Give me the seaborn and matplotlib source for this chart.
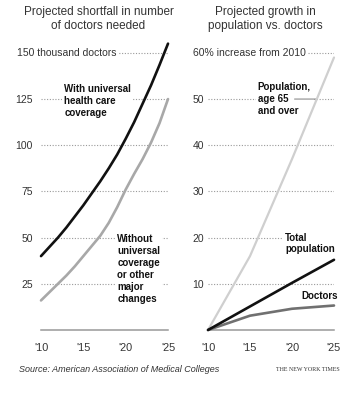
import numpy as np
import matplotlib
matplotlib.use("Agg")
import matplotlib.pyplot as plt
import seaborn as sns

# left panel: projected shortfall (thousands of doctors)
years = list(range(2010, 2026))
with_coverage = [40, 45, 50, 55.5, 61.5, 67.5, 74, 80.5, 87.5, 95, 103.5,
                 112.5, 122.5, 132.5, 143.5, 155]
without_coverage = [16, 20.5, 25, 29.5, 34.5, 40, 45.5, 51, 58, 66.5, 76,
                    84.5, 92.5, 101.5, 112, 125]
left_ticks = [25, 50, 75, 100, 125, 150]
left_labels = ["25", "50", "75", "100", "125", ""]

# right panel: percent increase from 2010
years5 = [2010, 2015, 2020, 2025]
pop65 = [0, 16, 37, 59]
total_pop = [0, 5.1, 10.2, 15.2]
doctors = [0, 3.1, 4.6, 5.3]
right_ticks = [10, 20, 30, 40, 50, 60]
right_labels = ["10", "20", "30", "40", "50", ""]

xticks = [2010, 2015, 2020, 2025]
xlabels = ["'10", "'15", "'20", "'25"]

sns.set_style("white")
plt.rcParams["font.family"] = ["Liberation Sans Narrow", "Liberation Sans", "DejaVu Sans"]

fig = plt.figure(figsize=(3.61, 4.0), dpi=100)
ax1 = fig.add_axes([0.1136, 0.175, 0.3518, 0.739])
ax2 = fig.add_axes([0.5762, 0.175, 0.349, 0.739])

TXT = "#333333"
GRID = "#9a9a9a"
bold_font = ["Liberation Sans", "DejaVu Sans"]
white_box = dict(facecolor="white", edgecolor="none", pad=1.5)


def style_axis(ax, ticks, labels, ymax, pad):
    ax.set_xlim(2010, 2025)
    ax.set_ylim(0, ymax)
    ax.set_yticks(ticks)
    ax.set_yticklabels(labels)
    ax.set_xticks(xticks)
    ax.set_xticklabels(xlabels)
    ax.grid(axis="y", linestyle=(0, (1, 1.5)), color=GRID, linewidth=0.8)
    ax.grid(axis="x", visible=False)
    ax.set_axisbelow(True)
    for s in ["left", "top", "right"]:
        ax.spines[s].set_visible(False)
    ax.spines["bottom"].set_color("#999999")
    ax.spines["bottom"].set_linewidth(1.1)
    ax.tick_params(axis="y", length=0, pad=pad, labelsize=7.5, labelcolor=TXT)
    ax.tick_params(axis="x", direction="out", length=4.3, width=1, color="#999999",
                   pad=5, labelsize=7.8, labelcolor=TXT)
    ax.set_xlabel("")
    ax.set_ylabel("")


# left panel
sns.lineplot(x=years, y=without_coverage, ax=ax1, color="#a8a8a8", linewidth=1.9,
             zorder=5, clip_on=False)
sns.lineplot(x=years, y=with_coverage, ax=ax1, color="#111111", linewidth=1.9,
             zorder=6, clip_on=False)
style_axis(ax1, left_ticks, left_labels, 160, 5.8)
ax1.text(-0.189, 150, "150 thousand doctors", transform=ax1.get_yaxis_transform(),
         ha="left", va="center", fontsize=7.5, color=TXT, bbox=white_box, zorder=3)
ax1.text(2012.75, 133, "With universal\nhealth care\ncoverage", fontsize=7,
         fontweight="bold", family=bold_font, ha="left", va="top", linespacing=1.25,
         color="#111111", bbox=white_box, zorder=3)
ax1.text(2019.0, 52, "Without\nuniversal\ncoverage\nor other\nmajor\nchanges",
         fontsize=7, fontweight="bold", family=bold_font, ha="left", va="top",
         linespacing=1.25, color="#111111", bbox=white_box, zorder=3)

# right panel
sns.lineplot(x=years5, y=pop65, ax=ax2, color="#cfcfcf", linewidth=1.6,
             zorder=5, clip_on=False)
sns.lineplot(x=years5, y=doctors, ax=ax2, color="#707070", linewidth=1.9,
             zorder=6, clip_on=False)
sns.lineplot(x=years5, y=total_pop, ax=ax2, color="#111111", linewidth=1.9,
             zorder=7, clip_on=False)
style_axis(ax2, right_ticks, right_labels, 64, 3)
ax2.text(-0.122, 60, "60% increase from 2010", transform=ax2.get_yaxis_transform(),
         ha="left", va="center", fontsize=7.5, color=TXT, bbox=white_box, zorder=3)
ax2.text(2015.9, 53.6, "Population,\nage 65\nand over", fontsize=7, fontweight="bold",
         family=bold_font, ha="left", va="top", linespacing=1.25, color="#111111",
         bbox=white_box, zorder=3)
x50 = np.interp(50, pop65, years5)
ax2.annotate("", xy=(x50, 50), xytext=(-16, 0), textcoords="offset points",
             arrowprops=dict(arrowstyle="-", color="#999999", lw=0.9,
                             shrinkA=0, shrinkB=0), zorder=4)
ax2.text(2019.2, 21, "Total\npopulation", fontsize=7, fontweight="bold",
         family=bold_font, ha="left", va="top", linespacing=1.15, color="#111111",
         bbox=white_box, zorder=3)
ax2.text(2021.1, 8.4, "Doctors", fontsize=7, fontweight="bold", family=bold_font,
         ha="left", va="top", color="#111111", zorder=3)

# titles and footer
fig.text(0.273, 0.985, "Projected shortfall in number\nof doctors needed",
         ha="center", va="top", fontsize=8.5, color=TXT, linespacing=1.25)
fig.text(0.734, 0.985, "Projected growth in\npopulation vs. doctors",
         ha="center", va="top", fontsize=8.5, color=TXT, linespacing=1.25)
fig.text(0.052, 0.077, "Source: American Association of Medical Colleges",
         ha="left", va="center", fontsize=6.5, style="italic", color=TXT)
fig.text(0.94, 0.077, "THE NEW YORK TIMES", ha="right", va="center", fontsize=4.3,
         family=["Liberation Serif", "DejaVu Serif"], color=TXT)

fig.savefig("out.png", dpi=100)
